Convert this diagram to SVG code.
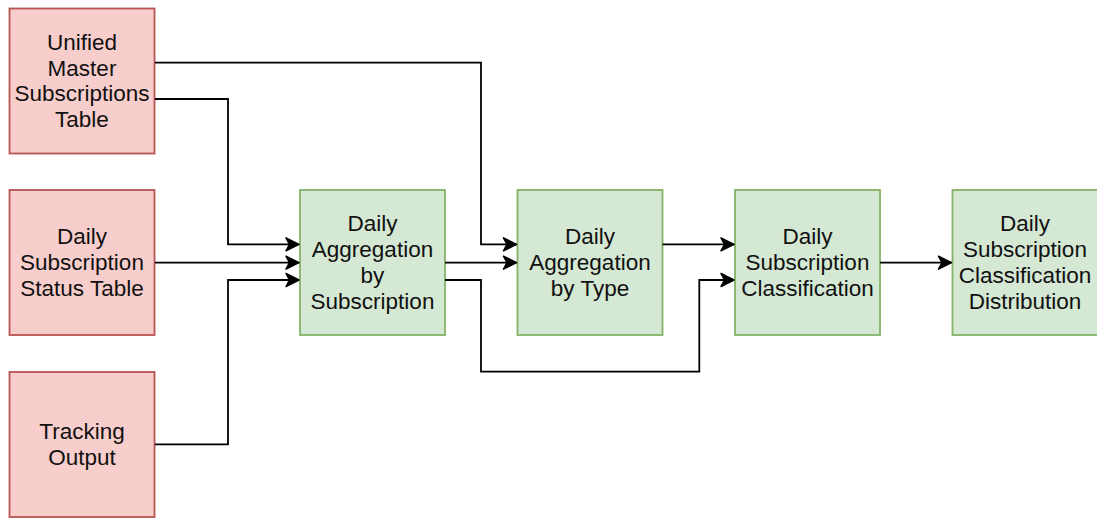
<svg xmlns="http://www.w3.org/2000/svg" width="1097" height="519" viewBox="0 0 1097 519">
  <style>
    .src rect { fill: #f8cecc; stroke: #b85450; stroke-width: 1.8; }
    .stage rect { fill: #d5e8d4; stroke: #82b366; stroke-width: 1.8; }
    text { font-family: "Liberation Sans", Arial, Helvetica, sans-serif; font-size: 22.5px; fill: #111111; text-anchor: middle; }
    .edges path { fill: none; stroke: #000000; stroke-width: 1.8; marker-end: url(#arrow); }
  </style>
  <defs>
    <marker id="arrow" markerUnits="userSpaceOnUse" markerWidth="20" markerHeight="20" viewBox="0 0 20 20" refX="17" refY="10" orient="auto" overflow="visible">
      <path d="M4,3.5 L17,10 L4,16.5 L7.5,10 Z" fill="#000000" stroke="#000000" stroke-width="1.5" stroke-linejoin="round"/>
    </marker>
  </defs>
  <rect width="1097" height="519" fill="#ffffff"/>

  <!-- source tables -->
  <g id="unified-master" class="src">
    <rect x="9.5" y="8.5" width="145" height="145"/>
    <text x="82" y="50"><tspan x="82">Unified</tspan><tspan x="82" dy="25.7">Master</tspan><tspan x="82" dy="25.7">Subscriptions</tspan><tspan x="82" dy="25.7">Table</tspan></text>
  </g>
  <g id="daily-status" class="src">
    <rect x="9.5" y="190" width="145" height="145"/>
    <text x="82" y="244.3"><tspan x="82">Daily</tspan><tspan x="82" dy="25.7">Subscription</tspan><tspan x="82" dy="25.7">Status Table</tspan></text>
  </g>
  <g id="tracking-output" class="src">
    <rect x="9.5" y="372" width="145" height="145"/>
    <text x="82" y="439"><tspan x="82">Tracking</tspan><tspan x="82" dy="25.7">Output</tspan></text>
  </g>

  <!-- processing stages -->
  <g id="agg-by-subscription" class="stage">
    <rect x="300" y="190" width="145" height="145"/>
    <text x="372.5" y="231.4"><tspan x="372.5">Daily</tspan><tspan x="372.5" dy="25.7">Aggregation</tspan><tspan x="372.5" dy="25.7">by</tspan><tspan x="372.5" dy="25.7">Subscription</tspan></text>
  </g>
  <g id="agg-by-type" class="stage">
    <rect x="517.5" y="190" width="145" height="145"/>
    <text x="590" y="244.3"><tspan x="590">Daily</tspan><tspan x="590" dy="25.7">Aggregation</tspan><tspan x="590" dy="25.7">by Type</tspan></text>
  </g>
  <g id="classification" class="stage">
    <rect x="735" y="190" width="145" height="145"/>
    <text x="807.5" y="244.3"><tspan x="807.5">Daily</tspan><tspan x="807.5" dy="25.7">Subscription</tspan><tspan x="807.5" dy="25.7">Classification</tspan></text>
  </g>
  <g id="classification-distribution" class="stage">
    <rect x="952.5" y="190" width="147" height="145"/>
    <text x="1025" y="231.4"><tspan x="1025">Daily</tspan><tspan x="1025" dy="25.7">Subscription</tspan><tspan x="1025" dy="25.7">Classification</tspan><tspan x="1025" dy="25.7">Distribution</tspan></text>
  </g>

  <!-- connectors -->
  <g id="edges" class="edges">
    <path d="M155,62.7 H481 V244.3 H516.5"/>
    <path d="M155,99 H228 V244.3 H299"/>
    <path d="M155,262.7 H299"/>
    <path d="M155,444.3 H228 V280 H299"/>
    <path d="M445,262.7 H516.5"/>
    <path d="M445,280 H481 V371.7 H699.3 V280 H734"/>
    <path d="M662.5,244.3 H734"/>
    <path d="M880,262.7 H951.5"/>
  </g>
</svg>
